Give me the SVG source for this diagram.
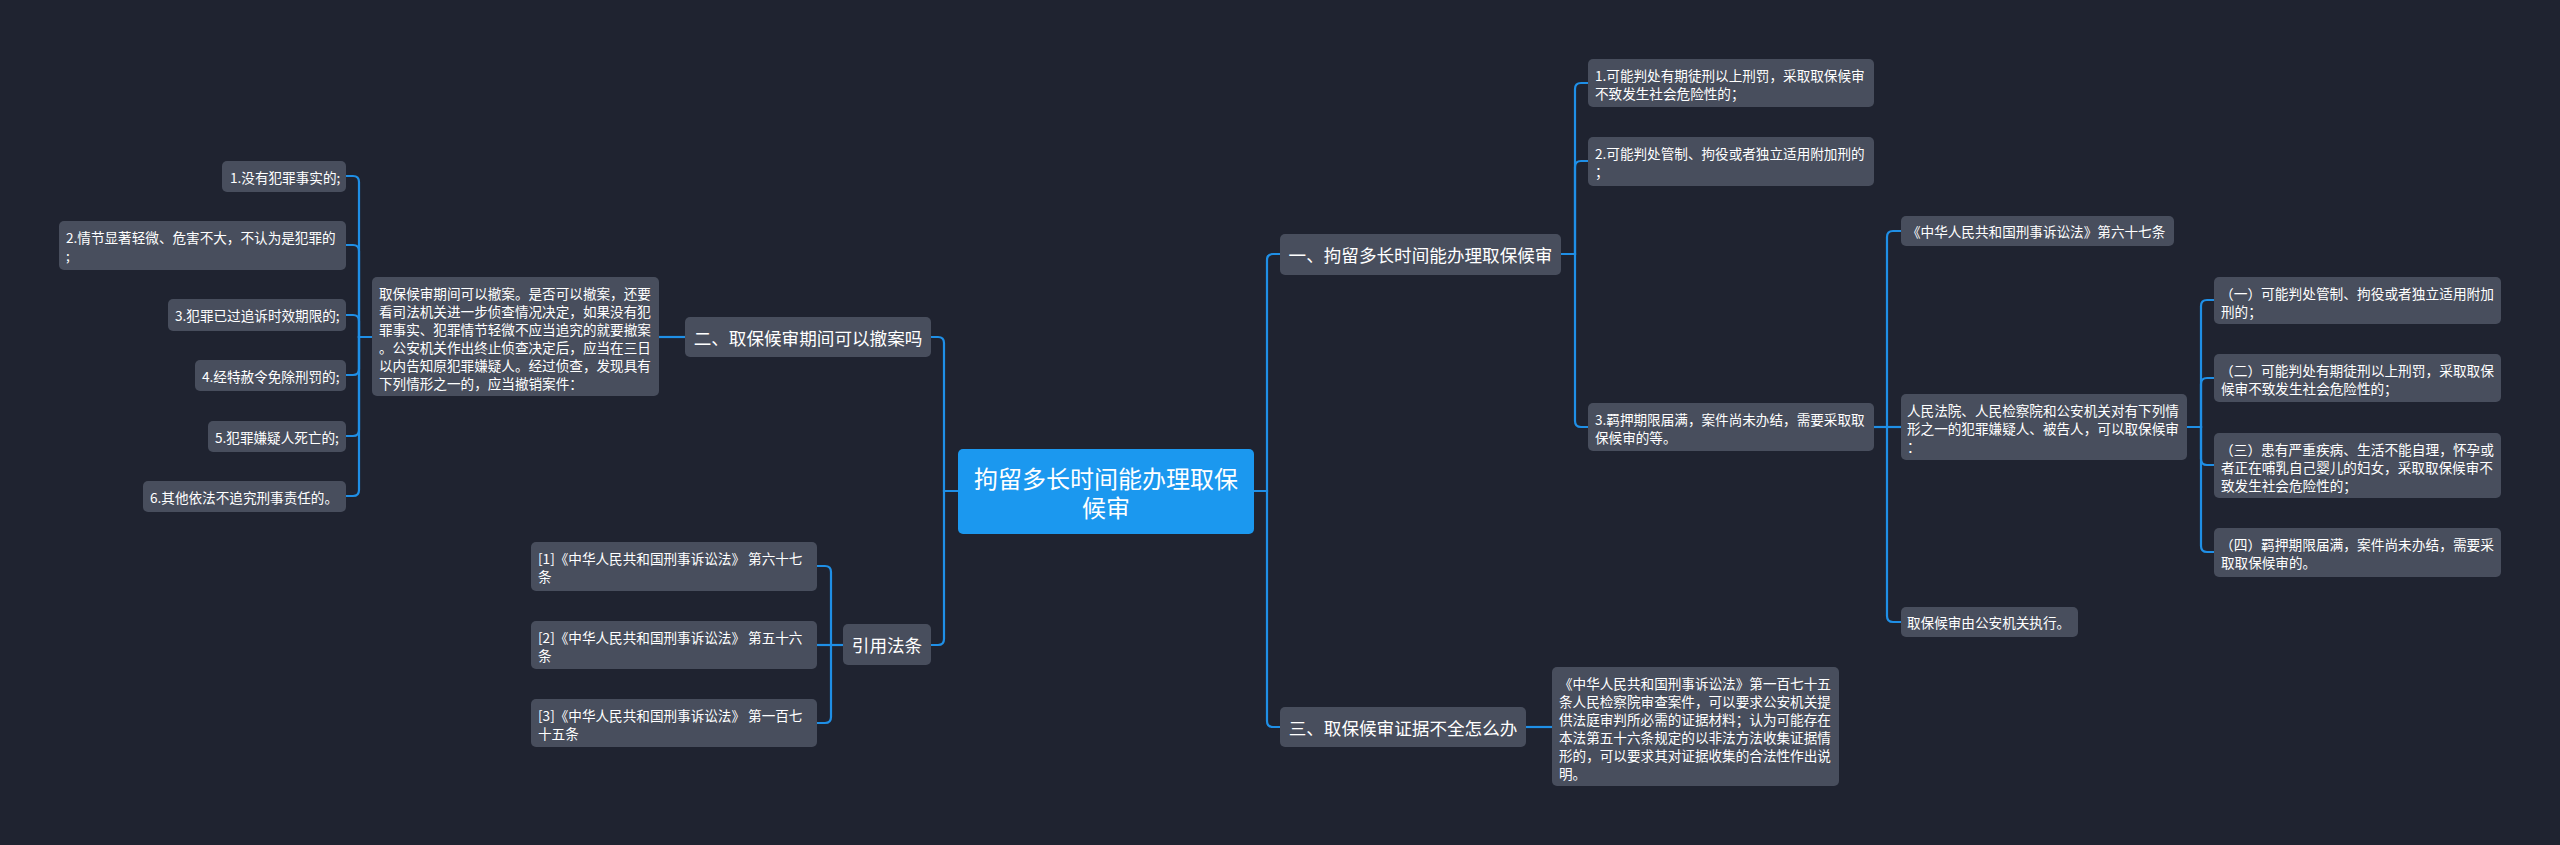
<svg xmlns="http://www.w3.org/2000/svg" width="2560" height="845" viewBox="0 0 2560 845">
<style>
.bg{fill:#1f2330}
.n rect{fill:#484e5d}
.n text,.m text,.ctr text{fill:#ffffff;font-family:"Noto Sans CJK SC","Liberation Sans",sans-serif;dominant-baseline:central}
.n text{font-size:13.6px}
.m rect{fill:#484e5d}
.m text{font-size:17.6px;text-anchor:middle}
.ctr rect{fill:#1b98ef}
.ctr text{font-size:24px;text-anchor:middle}
.c path{fill:none;stroke:#1f8fe6;stroke-width:2.2}
</style>
<rect class="bg" x="0" y="0" width="2560" height="845"/>
<g class="c" id="connectors">
<path d="M1254 491 H1267 V260 Q1267 254 1273 254 H1280"/>
<path d="M1254 491 H1267 V721 Q1267 727 1273 727 H1280"/>
<path d="M1561 254 H1575 V89 Q1575 83 1581 83 H1588"/>
<path d="M1561 254 H1575 V167 Q1575 161 1581 161 H1588"/>
<path d="M1561 254 H1575 V421 Q1575 427 1581 427 H1588"/>
<path d="M1874 427 H1887 V237 Q1887 231 1893 231 H1901"/>
<path d="M1874 427 H1901"/>
<path d="M1874 427 H1887 V616 Q1887 622 1893 622 H1901"/>
<path d="M2187 427 H2201 V306 Q2201 300 2207 300 H2214"/>
<path d="M2187 427 H2201 V384 Q2201 378 2207 378 H2214"/>
<path d="M2187 427 H2201 V459 Q2201 465 2207 465 H2214"/>
<path d="M2187 427 H2201 V546 Q2201 552 2207 552 H2214"/>
<path d="M1526 727 H1552"/>
<path d="M958 491 H944 V343 Q944 337 938 337 H931"/>
<path d="M958 491 H944 V639 Q944 645 938 645 H931"/>
<path d="M685 337 H659"/>
<path d="M372 337 H359 V182 Q359 176 353 176 H346"/>
<path d="M372 337 H359 V251 Q359 245 353 245 H346"/>
<path d="M372 337 H359 V321 Q359 315 353 315 H346"/>
<path d="M372 337 H359 V369 Q359 375 353 375 H346"/>
<path d="M372 337 H359 V430 Q359 436 353 436 H346"/>
<path d="M372 337 H359 V490 Q359 496 353 496 H346"/>
<path d="M843 645 H831 V572 Q831 566 825 566 H817"/>
<path d="M843 645 H817"/>
<path d="M843 645 H831 V717 Q831 723 825 723 H817"/>
</g>
<g class="ctr" id="root"><rect x="958" y="449" width="296" height="85" rx="5"/><text><tspan x="1106" y="477">拘留多长时间能办理取保</tspan><tspan x="1106" y="506">候审</tspan></text></g>

<g class="m" id="b1"><rect x="1280" y="234" width="281" height="41" rx="5"/><text x="1420.5" y="254.5">一、拘留多长时间能办理取保候审</text></g>
<g class="m" id="b2"><rect x="685" y="317" width="246" height="40" rx="5"/><text x="808" y="337">二、取保候审期间可以撤案吗</text></g>
<g class="m" id="b3"><rect x="1280" y="707" width="246" height="40" rx="5"/><text x="1403" y="727">三、取保候审证据不全怎么办</text></g>
<g class="m" id="b4"><rect x="843" y="624" width="88" height="41" rx="5"/><text x="887" y="644.5">引用法条</text></g>

<g class="n" id="c1"><rect x="1588" y="59" width="286" height="48" rx="5"/><text x="1595" y="75">1.可能判处有期徒刑以上刑罚，采取取保候审</text><text x="1595" y="93">不致发生社会危险性的；</text></g>
<g class="n" id="c2"><rect x="1588" y="137" width="286" height="49" rx="5"/><text x="1595" y="153">2.可能判处管制、拘役或者独立适用附加刑的</text><text x="1595" y="171">；</text></g>
<g class="n" id="c3"><rect x="1588" y="403" width="286" height="48" rx="5"/><text x="1595" y="419">3.羁押期限届满，案件尚未办结，需要采取取</text><text x="1595" y="437">保候审的等。</text></g>

<g class="n" id="k1"><rect x="1901" y="216" width="273" height="30" rx="5"/><text x="1907" y="231">《中华人民共和国刑事诉讼法》第六十七条</text></g>
<g class="n" id="k2"><rect x="1901" y="394" width="286" height="66" rx="5"/><text x="1907" y="410">人民法院、人民检察院和公安机关对有下列情</text><text x="1907" y="428">形之一的犯罪嫌疑人、被告人，可以取保候审</text><text x="1907" y="446">：</text></g>
<g class="n" id="k3"><rect x="1901" y="607" width="177" height="30" rx="5"/><text x="1907" y="622">取保候审由公安机关执行。</text></g>

<g class="n" id="m1"><rect x="2214" y="277" width="287" height="47" rx="5"/><text x="2220" y="292.5" textLength="274" lengthAdjust="spacingAndGlyphs">（一）可能判处管制、拘役或者独立适用附加</text><text x="2221" y="310.5">刑的；</text></g>
<g class="n" id="m2"><rect x="2214" y="354" width="287" height="48" rx="5"/><text x="2220" y="370" textLength="274" lengthAdjust="spacingAndGlyphs">（二）可能判处有期徒刑以上刑罚，采取取保</text><text x="2221" y="388">候审不致发生社会危险性的；</text></g>
<g class="n" id="m3"><rect x="2214" y="433" width="287" height="65" rx="5"/><text x="2220" y="448.5" textLength="274" lengthAdjust="spacingAndGlyphs">（三）患有严重疾病、生活不能自理，怀孕或</text><text x="2221" y="466.5">者正在哺乳自己婴儿的妇女，采取取保候审不</text><text x="2221" y="484.5">致发生社会危险性的；</text></g>
<g class="n" id="m4"><rect x="2214" y="528" width="287" height="49" rx="5"/><text x="2220" y="544" textLength="274" lengthAdjust="spacingAndGlyphs">（四）羁押期限届满，案件尚未办结，需要采</text><text x="2221" y="562">取取保候审的。</text></g>

<g class="n" id="d1"><rect x="1552" y="667" width="287" height="119" rx="5"/><text x="1559" y="683">《中华人民共和国刑事诉讼法》第一百七十五</text><text x="1559" y="701">条人民检察院审查案件，可以要求公安机关提</text><text x="1559" y="719">供法庭审判所必需的证据材料；认为可能存在</text><text x="1559" y="737">本法第五十六条规定的以非法方法收集证据情</text><text x="1559" y="755">形的，可以要求其对证据收集的合法性作出说</text><text x="1559" y="773">明。</text></g>

<g class="n" id="t2"><rect x="372" y="277" width="287" height="119" rx="5"/><text x="379" y="293">取保候审期间可以撤案。是否可以撤案，还要</text><text x="379" y="311">看司法机关进一步侦查情况决定，如果没有犯</text><text x="379" y="329">罪事实、犯罪情节轻微不应当追究的就要撤案</text><text x="379" y="347">。公安机关作出终止侦查决定后，应当在三日</text><text x="379" y="365">以内告知原犯罪嫌疑人。经过侦查，发现具有</text><text x="379" y="383">下列情形之一的，应当撤销案件：</text></g>

<g class="n" id="l1"><rect x="222" y="161" width="124" height="31" rx="5"/><text x="230" y="176.5">1.没有犯罪事实的;</text></g>
<g class="n" id="l2"><rect x="59" y="221" width="287" height="49" rx="5"/><text x="66" y="237">2.情节显著轻微、危害不大，不认为是犯罪的</text><text x="66" y="255">;</text></g>
<g class="n" id="l3"><rect x="168" y="299" width="178" height="32" rx="5"/><text x="175" y="315">3.犯罪已过追诉时效期限的;</text></g>
<g class="n" id="l4"><rect x="195" y="360" width="151" height="31" rx="5"/><text x="202" y="375.5">4.经特赦令免除刑罚的;</text></g>
<g class="n" id="l5"><rect x="208" y="421" width="138" height="31" rx="5"/><text x="215" y="436.5">5.犯罪嫌疑人死亡的;</text></g>
<g class="n" id="l6"><rect x="143" y="481" width="203" height="31" rx="5"/><text x="150" y="496.5">6.其他依法不追究刑事责任的。</text></g>

<g class="n" id="r1"><rect x="531" y="542" width="286" height="49" rx="5"/><text x="538" y="558">[1]《中华人民共和国刑事诉讼法》 第六十七</text><text x="538" y="576">条</text></g>
<g class="n" id="r2"><rect x="531" y="621" width="286" height="48" rx="5"/><text x="538" y="637">[2]《中华人民共和国刑事诉讼法》 第五十六</text><text x="538" y="655">条</text></g>
<g class="n" id="r3"><rect x="531" y="699" width="286" height="48" rx="5"/><text x="538" y="715">[3]《中华人民共和国刑事诉讼法》 第一百七</text><text x="538" y="733">十五条</text></g>
</svg>
